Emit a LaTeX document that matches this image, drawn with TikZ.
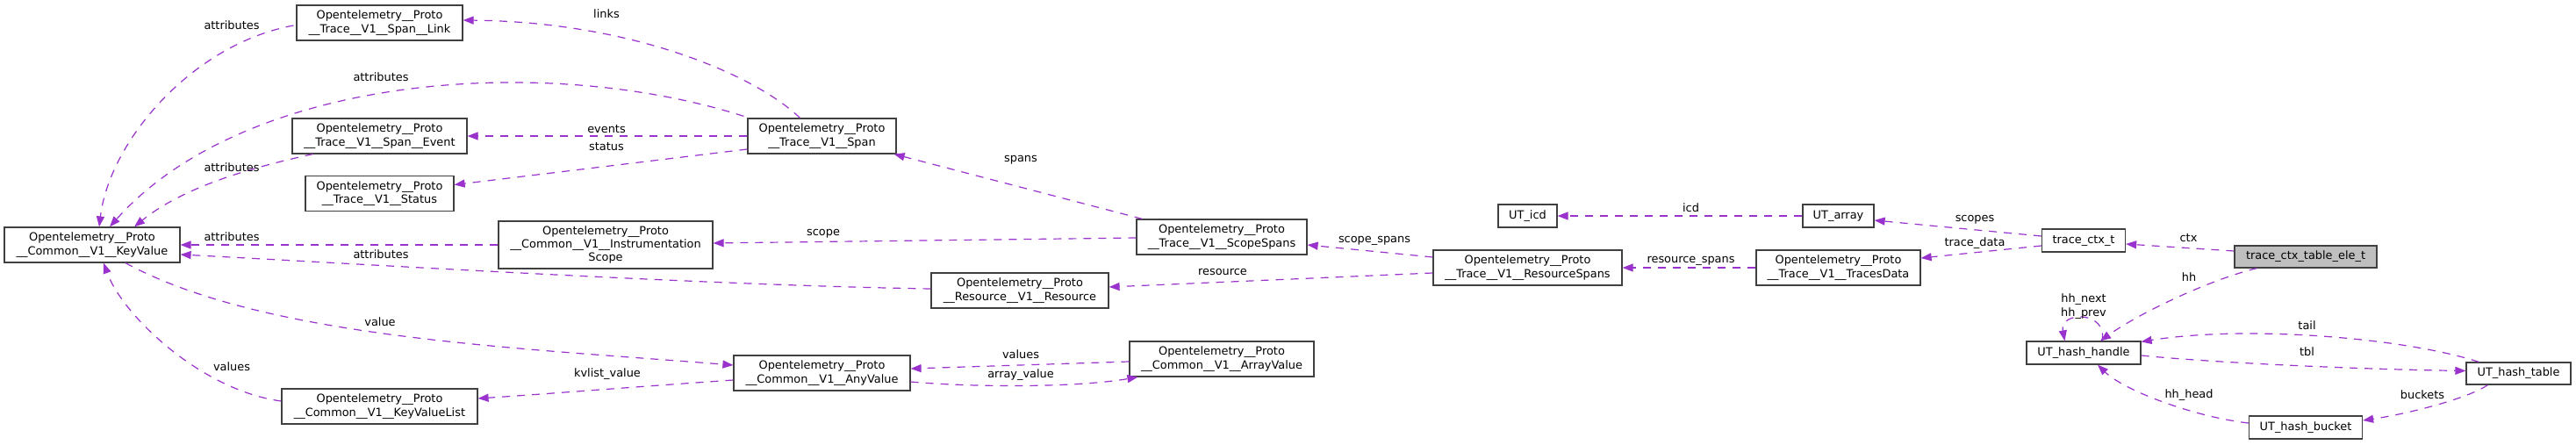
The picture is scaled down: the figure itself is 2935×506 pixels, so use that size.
\documentclass[tikz,border=0pt]{standalone}
\usepackage{fontspec}
\setmainfont{DejaVu Sans}
\usetikzlibrary{arrows.meta,calc}
\definecolor{edgec}{HTML}{9A32CD}
\definecolor{boxc}{HTML}{404040}
\definecolor{elefill}{HTML}{BFBFBF}
\begin{document}
\begin{tikzpicture}[x=1pt,y=-1pt,font=\fontsize{12.9}{15.3}\selectfont,
  box/.style={draw=boxc,line width=1.2pt,inner sep=0pt,align=center,fill=white},
  elab/.style={inner sep=0pt,align=center},
  edge/.style={draw=edgec,line width=1.2pt,dash pattern=on 9pt off 8pt,
     -{Triangle[length=12pt,width=9pt,fill=edgec]}}]
\fill[white] (0,0) rectangle (2935,506);
\useasboundingbox (0,0) rectangle (2935,506);
% nodes
\node[box,minimum width=200pt,minimum height=40pt] (kv) at (105,279) {Opentelemetry\_\_Proto\\\_\_Common\_\_V1\_\_KeyValue};
\node[box,minimum width=189pt,minimum height=40pt] (link) at (432.5,26) {Opentelemetry\_\_Proto\\\_\_Trace\_\_V1\_\_Span\_\_Link};
\node[box,minimum width=199pt,minimum height=40pt] (event) at (432.5,155) {Opentelemetry\_\_Proto\\\_\_Trace\_\_V1\_\_Span\_\_Event};
\node[box,minimum width=169pt,minimum height=40pt] (status) at (432.5,220.5) {Opentelemetry\_\_Proto\\\_\_Trace\_\_V1\_\_Status};
\node[box,minimum width=223pt,minimum height=40pt] (kvl) at (432.5,463) {Opentelemetry\_\_Proto\\\_\_Common\_\_V1\_\_KeyValueList};
\node[box,minimum width=244pt,minimum height=54pt] (scope) at (690,279) {Opentelemetry\_\_Proto\\\_\_Common\_\_V1\_\_Instrumentation\\Scope};
\node[box,minimum width=169pt,minimum height=40pt] (span) at (936.5,155) {Opentelemetry\_\_Proto\\\_\_Trace\_\_V1\_\_Span};
\node[box,minimum width=201pt,minimum height=40pt] (any) at (936.5,425) {Opentelemetry\_\_Proto\\\_\_Common\_\_V1\_\_AnyValue};
\node[box,minimum width=202pt,minimum height=40pt] (res) at (1162,331) {Opentelemetry\_\_Proto\\\_\_Resource\_\_V1\_\_Resource};
\node[box,minimum width=194pt,minimum height=40pt] (ss) at (1392,270) {Opentelemetry\_\_Proto\\\_\_Trace\_\_V1\_\_ScopeSpans};
\node[box,minimum width=210pt,minimum height=40pt] (arr) at (1392,409) {Opentelemetry\_\_Proto\\\_\_Common\_\_V1\_\_ArrayValue};
\node[box,minimum width=215pt,minimum height=40pt] (rs) at (1740.5,305) {Opentelemetry\_\_Proto\\\_\_Trace\_\_V1\_\_ResourceSpans};
\node[box,minimum width=67pt,minimum height=26pt] (icd) at (1740.5,246) {UT\_icd};
\node[box,minimum width=81pt,minimum height=26pt] (uta) at (2094.5,246) {UT\_array};
\node[box,minimum width=187pt,minimum height=40pt] (td) at (2094.5,305) {Opentelemetry\_\_Proto\\\_\_Trace\_\_V1\_\_TracesData};
\node[box,minimum width=95pt,minimum height=26pt] (ctx) at (2374,274) {trace\_ctx\_t};
\node[box,fill=elefill,minimum width=162pt,minimum height=25pt] (ele) at (2627,292.5) {trace\_ctx\_table\_ele\_t};
\node[box,minimum width=130pt,minimum height=26pt] (hh) at (2374,402) {UT\_hash\_handle};
\node[box,minimum width=119pt,minimum height=25pt] (ht) at (2869.5,425.5) {UT\_hash\_table};
\node[box,minimum width=129pt,minimum height=26pt] (hb) at (2627,487) {UT\_hash\_bucket};
% edges
\draw[edge] ($(link.west)+(-3,3)$) .. controls (220,50) and (125,160) .. ($(kv.north)+(8,0)$);
\draw[edge] ($(span.north west)+(-4,-2)$) .. controls (620,60) and (280,85) .. ($(kv.north)+(20,0)$);
\draw[edge] ($(event.south west)+(24,0)$) .. controls (290,190) and (210,212) .. ($(kv.north)+(48,0)$);
\draw[edge] (scope.west) -- (kv.east);
\draw[edge] ($(res.west)+(0,-2)$) .. controls (800,325) and (400,300) .. ($(kv.east)+(0,11)$);
\draw[edge] ($(kv.south)+(38,0)$) .. controls (300,385) and (586,396) .. ($(any.west)+(0,-9)$);
\draw[edge] ($(kvl.west)+(0,-6)$) .. controls (230,445) and (140,360) .. ($(kv.south)+(13,0)$);
\draw[edge] ($(any.west)+(0,8)$) .. controls (720,441) and (620,449) .. ($(kvl.east)+(0,-9)$);
\draw[edge] ($(span.north)+(-25,0)$) .. controls (860,85) and (720,25) .. ($(link.east)+(0,-3)$);
\draw[edge] (span.west) -- (event.east);
\draw[edge] ($(span.west)+(0,15)$) -- ($(status.east)+(0,-10)$);
\draw[edge] ($(ss.north west)+(7,0)$) -- ($(span.south east)+(-3,0)$);
\draw[edge] ($(ss.west)+(0,1)$) -- ($(scope.east)+(0,-2)$);
\draw[edge] ($(rs.west)+(0,-12)$) -- ($(ss.east)+(0,9)$);
\draw[edge] ($(rs.west)+(0,6)$) -- ($(res.east)+(0,-4)$);
\draw[edge] (td.west) -- (rs.east);
\draw[edge] (uta.west) -- (icd.east);
\draw[edge] ($(ctx.west)+(0,-5)$) -- ($(uta.east)+(0,5)$);
\draw[edge] ($(ctx.west)+(0,6)$) -- ($(td.east)+(0,-11)$);
\draw[edge] ($(ele.west)+(0,-6.5)$) -- ($(ctx.east)+(0,4)$);
\draw[edge] ($(ele.south west)+(26,0)$) .. controls (2520,318) and (2440,355) .. ($(hh.north)+(19,0)$);
\draw[edge] ($(hh.north)+(21,0)$) .. controls (2402,354) and (2346,354) .. ($(hh.north)+(-21.5,0)$);
\draw[edge] ($(ht.north west)+(15,0)$) .. controls (2740,385) and (2560,370) .. ($(hh.north east)+(0,1)$);
\draw[edge] ($(hh.east)+(0,3)$) .. controls (2530,414) and (2700,421) .. ($(ht.west)+(0,-3)$);
\draw[edge] ($(ht.south west)+(25,0)$) .. controls (2810,455) and (2740,472) .. ($(hb.east)+(0,-8)$);
\draw[edge] ($(hb.west)+(0,-5)$) .. controls (2500,475) and (2420,445) .. ($(hh.south)+(16,0)$);
\draw[edge] ($(any.east)+(0,10)$) .. controls (1120,442) and (1230,441) .. ($(arr.south west)+(10,0)$);
\draw[edge] ($(arr.west)+(0,3)$) -- ($(any.east)+(0,-5)$);
% labels
\node[elab] (l1) at (264,29) {attributes};
\node[elab] (l2) at (434,88) {attributes};
\node[elab] (l3) at (264,191) {attributes};
\node[elab] (l4) at (264,270) {attributes};
\node[elab] (l5) at (434,290) {attributes};
\node[elab] (l6) at (433,367) {value};
\node[elab] (l7) at (264,418) {values};
\node[elab] (l8) at (692,426) {kvlist\_value};
\node[elab] (l9) at (691,16) {links};
\node[elab] (l10) at (691,147) {events};
\node[elab] (l11) at (691,167) {status};
\node[elab] (l12) at (1163,182) {spans};
\node[elab] (l13) at (938,266) {scope};
\node[elab] (l14) at (1566,274) {scope\_spans};
\node[elab] (l15) at (1393,310) {resource};
\node[elab] (l16) at (1926.5,297) {resource\_spans};
\node[elab] (l17) at (1926.5,237) {icd};
\node[elab] (l18) at (2250,250) {scopes};
\node[elab] (l19) at (2250,277) {trace\_data};
\node[elab] (l20) at (2493.5,271) {ctx};
\node[elab] (l21) at (2494,316) {hh};
\node[elab] (l22) at (2374,349) {hh\_next\\hh\_prev};
\node[elab] (l23) at (2628.5,371) {tail};
\node[elab] (l24) at (2628.5,401) {tbl};
\node[elab] (l25) at (2760,450) {buckets};
\node[elab] (l26) at (2494,450) {hh\_head};
\node[elab] (l27) at (1163,404) {values};
\node[elab] (l28) at (1163,427) {array\_value};
\end{tikzpicture}
\end{document}
